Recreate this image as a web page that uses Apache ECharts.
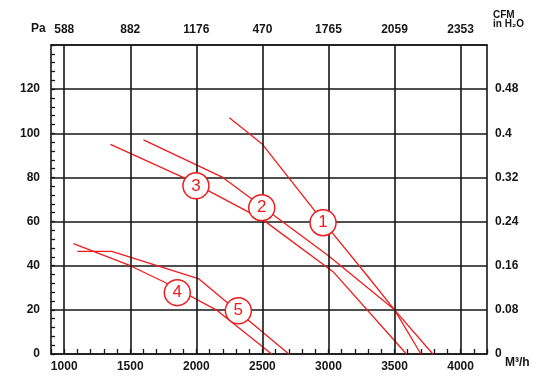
<!DOCTYPE html>
<html>
<head>
<meta charset="utf-8">
<script src="https://cdn.jsdelivr.net/npm/echarts@6/dist/echarts.min.js"></script>
<style>html,body{margin:0;padding:0;background:#fff}#c{width:554px;height:389px}</style>
</head>
<body>
<div id="c"></div>
<script>
// ---- data ----
const xTickValues = [1000, 1500, 2000, 2500, 3000, 3500, 4000];
const xTickLabels = ['1000', '1500', '2000', '2500', '3000', '3500', '4000'];
const cfmLabels = ['588', '882', '1176', '470', '1765', '2059', '2353'];
const yTickValues = [0, 20, 40, 60, 80, 100, 120];
const inH2OLabels = ['0', '0.08', '0.16', '0.24', '0.32', '0.4', '0.48'];

const curve1 = [[2250, 107], [2500, 95], [3000, 57], [3300, 35], [3500, 20], [3700, 0]];
const curve2 = [[1600, 97], [2200, 80], [3000, 44.5], [3500, 20], [3790, 0]];
const curve3 = [[1350, 95], [1900, 80], [2500, 61], [3040, 37], [3590, 0]];
const curve4 = [[1070, 50], [1500, 40], [1760, 32.5], [2150, 20], [2570, 0]];
const curve5 = [[1100, 46.5], [1360, 46.5], [2020, 34], [2700, 0]];
const curveNames = ['1', '2', '3', '4', '5'];
const curveLabelAt = [[2959, 59.5], [2495, 66.3], [1997, 76.2], [1856, 27.8], [2318, 19.6]];

// ---- chart ----
const RED = '#ee1c1c';
const INK = '#161616';
const FONT = '"Liberation Sans Narrow", "Liberation Sans", Arial, sans-serif';
const chart = echarts.init(document.getElementById('c'), null, {renderer: 'canvas'});

function curveSeries(name, data) {
  return {
    name: name, type: 'line', data: data, smooth: false, showSymbol: false,
    symbol: 'none', z: 3, silent: true,
    lineStyle: {color: RED, width: 1.3}
  };
}

const labelStyle = {color: INK, fontFamily: FONT, fontWeight: 'bold', fontSize: 12};

chart.setOption({
  animation: false,
  backgroundColor: '#fff',
  grid: {left: 51, right: 67, top: 45, bottom: 35, containLabel: false},
  xAxis: [{
    type: 'value', position: 'bottom', min: 900, max: 4200, interval: 100,
    axisLine: {show: true, onZero: false, lineStyle: {color: INK, width: 1.6}},
    axisTick: {show: true, inside: true, length: 5, lineStyle: {color: INK, width: 1.3}},
    axisLabel: Object.assign({
      margin: 7,
      formatter: function (v) { const i = xTickValues.indexOf(Math.round(v)); return i >= 0 ? xTickLabels[i] : ''; }
    }, labelStyle),
    splitLine: {show: false}
  }, {
    type: 'value', position: 'top', min: 900, max: 4200, interval: 100,
    axisLine: {show: true, onZero: false, lineStyle: {color: INK, width: 1.6}},
    axisTick: {show: false},
    axisLabel: Object.assign({
      margin: 9,
      formatter: function (v) { const i = xTickValues.indexOf(Math.round(v)); return i >= 0 ? cfmLabels[i] : ''; }
    }, labelStyle),
    splitLine: {show: false}
  }],
  yAxis: [{
    type: 'value', position: 'left', min: 0, max: 140, interval: 20,
    axisLine: {show: true, onZero: false, lineStyle: {color: INK, width: 1.6}},
    axisTick: {show: true, inside: true, length: 4, lineStyle: {color: INK, width: 1.3}},
    minorTick: {show: true, splitNumber: 5, length: 4, lineStyle: {color: INK, width: 1.3}},
    axisLabel: Object.assign({
      margin: 11,
      formatter: function (v) { const i = yTickValues.indexOf(Math.round(v)); return i >= 0 ? String(yTickValues[i]) : ''; }
    }, labelStyle),
    splitLine: {show: true, lineStyle: {color: INK, width: 1.6}}
  }, {
    type: 'value', position: 'right', min: 0, max: 140, interval: 20,
    axisLine: {show: true, onZero: false, lineStyle: {color: INK, width: 1.6}},
    axisTick: {show: false},
    axisLabel: Object.assign({
      margin: 8, align: 'left',
      formatter: function (v) { const i = yTickValues.indexOf(Math.round(v)); return i >= 0 ? inH2OLabels[i] : ''; }
    }, labelStyle),
    splitLine: {show: false}
  }],
  series: [
    {
      name: 'grid', type: 'line', data: [], z: 1, silent: true, showSymbol: false,
      markLine: {
        silent: true, symbol: ['none', 'none'], animation: false,
        label: {show: false},
        lineStyle: {color: INK, width: 1.6, type: 'solid'},
        emphasis: {disabled: true},
        data: xTickValues.map(function (v) { return {xAxis: v}; })
      }
    },
    curveSeries('1', curve1),
    curveSeries('2', curve2),
    curveSeries('3', curve3),
    curveSeries('4', curve4),
    curveSeries('5', curve5),
    {
      name: 'labels', type: 'scatter', z: 5, silent: true,
      data: curveLabelAt,
      symbol: 'circle', symbolSize: 26,
      itemStyle: {color: '#fff', borderColor: RED, borderWidth: 1.5, opacity: 1},
      label: {
        show: true, position: 'inside', color: RED, fontSize: 17,
        fontFamily: '"Liberation Sans", Arial, sans-serif',
        formatter: function (p) { return curveNames[p.dataIndex]; }
      }
    }
  ],
  graphic: [
    {type: 'text', left: 31, top: 23, style: {text: 'Pa', font: 'bold 12px ' + FONT, fill: INK}},
    {type: 'text', left: 493, top: 10, style: {text: 'CFM', font: 'bold 10px ' + FONT, fill: INK}},
    {type: 'text', left: 493, top: 19, style: {text: 'in H\u2082O', font: 'bold 10px ' + FONT, fill: INK}},
    {type: 'text', left: 505, top: 357, style: {text: 'M\u00b3/h', font: 'bold 12px ' + FONT, fill: INK}}
  ]
});
</script>
</body>
</html>
